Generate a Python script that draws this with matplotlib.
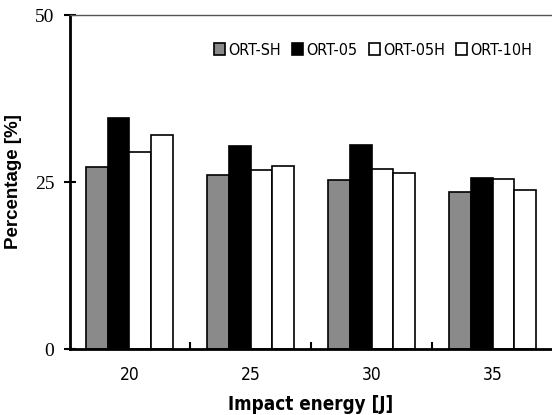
import matplotlib
matplotlib.use('Agg')
import matplotlib.pyplot as plt
import numpy as np

plt.rcParams['font.family'] = ['DejaVu Sans']
plt.rcParams['font.stretch'] = 'condensed'

# data
energy = ['20', '25', '30', '35']
series = ['ORT-SH', 'ORT-05', 'ORT-05H', 'ORT-10H']
ort_sh = [27.3, 26.1, 25.3, 23.5]
ort_05 = [34.6, 30.4, 30.5, 25.6]
ort_05h = [29.5, 26.8, 27.0, 25.5]
ort_10h = [32.0, 27.4, 26.3, 23.8]

values = [ort_sh, ort_05, ort_05h, ort_10h]
faces = ['#8a8a8a', 'black', 'white', 'white']

fig = plt.figure(figsize=(5.52, 4.15), dpi=100)
ax = fig.add_axes([0.127, 0.159, 0.873, 0.8048])

x = np.arange(len(energy))
w = 0.18
for i, (vals, fc) in enumerate(zip(values, faces)):
    ax.bar(x + (i - 1.5) * w, vals, w, color=fc, edgecolor='black',
           linewidth=1.2, label=series[i])

ax.set_xlim(-0.49, 3.49)
ax.set_ylim(0, 50)
ax.set_yticks([0, 25, 50])
ax.set_xticks(x)
ax.set_xticklabels(energy, fontsize=12.5)
ax.set_xticks([0.5, 1.5, 2.5], minor=True)
ax.tick_params(axis='x', which='major', length=0, pad=12)
ax.tick_params(axis='x', which='minor', direction='in', length=5, width=1.5)
ax.tick_params(axis='y', direction='inout', length=9, width=1.5, pad=7)
ax.set_yticklabels(['0', '25', '50'], fontsize=14, family=['Liberation Serif'],
                   stretch='normal')

ax.spines['right'].set_visible(False)
ax.spines['left'].set_linewidth(2)
ax.spines['bottom'].set_linewidth(2)
ax.spines['top'].set_linewidth(1)
ax.spines['top'].set_color('#555555')

ax.set_ylabel('Percentage [%]', fontsize=13.5, fontweight='bold',
              family=['Liberation Sans'], stretch='normal')
ax.yaxis.set_label_coords(-0.1, 0.5)
ax.set_xlabel('Impact energy [J]', fontsize=13.5, fontweight='bold', labelpad=8)

ax.legend(loc='center', bbox_to_anchor=(0.629, 0.895), ncol=4, frameon=False,
          fontsize=11.5, handlelength=0.7, handleheight=0.7, handletextpad=0.2,
          columnspacing=0.7)

plt.savefig('out.png', dpi=100)
